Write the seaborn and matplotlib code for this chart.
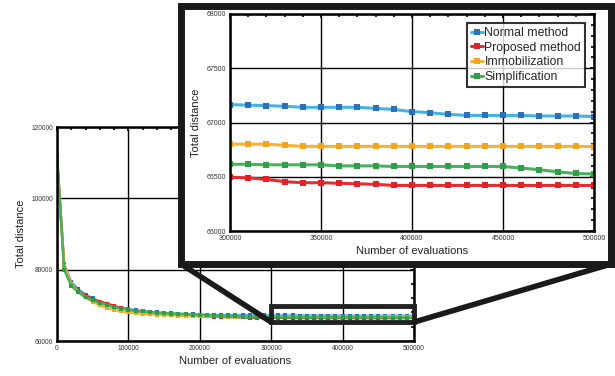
import pandas as pd
import seaborn as sns
import matplotlib.pyplot as plt
from matplotlib.patches import Rectangle, ConnectionPatch
from matplotlib.ticker import MultipleLocator

# evaluations every 10000 from 0 to 500000
evaluations = list(range(0, 500001, 10000))

normal_method = [
    111500, 81500, 76500, 74500, 73000, 72000, 71000, 70300, 69800, 69300,
    68900, 68600, 68400, 68200, 68000, 67850, 67750, 67650, 67550, 67450,
    67400, 67350, 67300, 67280, 67260, 67240, 67220, 67200, 67190, 67180,
    67165, 67160, 67155, 67150, 67140, 67140, 67140, 67140, 67130, 67120,
    67100, 67090, 67075, 67065, 67065, 67065, 67065, 67060, 67060, 67060,
    67055,
]
proposed_method = [
    111500, 81000, 76000, 74000, 72600, 71800, 71000, 70500, 69800, 69200,
    68800, 68500, 68200, 68000, 67800, 67600, 67450, 67300, 67200, 67100,
    67000, 66900, 66800, 66750, 66700, 66650, 66600, 66550, 66520, 66500,
    66495, 66490, 66475, 66455, 66445, 66445, 66440, 66435, 66430, 66420,
    66420, 66420, 66420, 66420, 66420, 66420, 66420, 66420, 66420, 66420,
    66420,
]
immobilization = [
    111000, 81000, 76000, 73800, 72200, 71000, 70000, 69300, 68800, 68300,
    68000, 67800, 67600, 67500, 67400, 67300, 67200, 67100, 67050, 67000,
    66950, 66920, 66900, 66880, 66860, 66840, 66830, 66820, 66810, 66805,
    66800, 66800, 66800, 66790, 66780, 66780, 66780, 66780, 66780, 66780,
    66780, 66780, 66780, 66780, 66780, 66780, 66780, 66780, 66780, 66780,
    66778,
]
simplification = [
    112000, 80000, 75500, 73600, 72200, 71400, 70700, 70100, 69500, 69100,
    68700, 68500, 68300, 68100, 67950, 67800, 67700, 67600, 67500, 67400,
    67300, 67200, 67100, 67000, 66950, 66900, 66850, 66800, 66700, 66650,
    66615, 66615, 66610, 66610, 66610, 66610, 66600, 66600, 66600, 66595,
    66595, 66595, 66595, 66595, 66595, 66595, 66580, 66565, 66545, 66530,
    66525,
]

labels = ["Normal method", "Proposed method", "Immobilization", "Simplification"]
line_colors = ["#45b2e6", "#ea2a30", "#f6b235", "#46b25c"]
marker_colors = ["#2a72b8", "#e02228", "#f4a51f", "#2f9f47"]

# zoomed region shown in the inset
zoom_x = (300000, 500000)
zoom_y = (66000, 68000)
zoom_box_y = (65300, 69800)

df = pd.DataFrame({
    "evaluations": evaluations * 4,
    "distance": normal_method + proposed_method + immobilization + simplification,
    "method": sum([[lab] * len(evaluations) for lab in labels], []),
})

sns.set_theme(style="white")
plt.rcParams["font.family"] = ["Liberation Sans", "DejaVu Sans"]

fig = plt.figure(figsize=(6.15, 3.76), dpi=100)
ax = fig.add_axes([57 / 615, 1 - 341 / 376, 357 / 615, 214 / 376])
ax_in = fig.add_axes([230 / 615, 1 - 231 / 376, 364 / 615, 217 / 376])
ax_in.set_zorder(5)


def draw_lines(a, lw, ms):
    sns.lineplot(data=df, x="evaluations", y="distance", hue="method",
                 hue_order=labels, palette=line_colors, ax=a, marker="s",
                 markersize=ms, markeredgewidth=0, linewidth=lw,
                 legend=False, sort=False)
    for line, mc in zip(a.lines, marker_colors):
        line.set_markerfacecolor(mc)


def style_axes(a, xmajor, xminor, ymajor, yminor):
    a.xaxis.set_major_locator(MultipleLocator(xmajor))
    a.xaxis.set_minor_locator(MultipleLocator(xminor))
    a.yaxis.set_major_locator(MultipleLocator(ymajor))
    a.yaxis.set_minor_locator(MultipleLocator(yminor))
    a.grid(True, which="major", color="black", linewidth=1.0)
    a.set_axisbelow(True)
    for sp in a.spines.values():
        sp.set_color("black")
        sp.set_linewidth(1.8)
    a.tick_params(which="both", direction="in", top=True, right=True,
                  colors="black", labelcolor="#333333", labelsize=4.8, pad=3)
    a.tick_params(which="major", length=3, width=1.2)
    a.tick_params(which="minor", length=2, width=1.2)
    a.set_xlabel("Number of evaluations", fontsize=8, color="#222222", labelpad=3)
    a.set_ylabel("Total distance", fontsize=8, color="#222222", labelpad=4)


# main chart
draw_lines(ax, 1.8, 3.2)
ax.set_xlim(0, 500000)
ax.set_ylim(60000, 120000)
style_axes(ax, 100000, 20000, 20000, 4000)
ax.add_patch(Rectangle((zoom_x[0], zoom_box_y[0]), zoom_x[1] - zoom_x[0],
                       zoom_box_y[1] - zoom_box_y[0], fill=False,
                       edgecolor="#222222", linewidth=3.5, clip_on=False, zorder=6))

# frame around the inset
frame = Rectangle((181 / 615, 1 - 264 / 376), 430 / 615, 258 / 376,
                  transform=fig.transFigure, facecolor="white",
                  edgecolor="#1a1a1a", linewidth=5, zorder=3)
fig.add_artist(frame)

for fx, dx in [(181 / 615, zoom_x[0]), (611 / 615, zoom_x[1])]:
    con = ConnectionPatch(xyA=(fx, 1 - 264 / 376), coordsA=fig.transFigure,
                          xyB=(dx, zoom_box_y[0]), coordsB=ax.transData,
                          color="#1a1a1a", linewidth=4, zorder=4)
    fig.add_artist(con)

# inset chart
draw_lines(ax_in, 2.2, 3.8)
ax_in.set_xlim(*zoom_x)
ax_in.set_ylim(*zoom_y)
style_axes(ax_in, 50000, 10000, 500, 100)
ax_in.tick_params(labelsize=5)

handles = ax_in.lines[:4]
leg = ax_in.legend(handles, labels, loc="upper right", fontsize=8.8,
                   frameon=True, fancybox=False, handlelength=1.0,
                   handletextpad=0.1, labelspacing=0.22, borderpad=0.3,
                   borderaxespad=0.75)
leg.get_frame().set_edgecolor("black")
leg.get_frame().set_linewidth(1.5)

fig.savefig("out.png", dpi=100)
